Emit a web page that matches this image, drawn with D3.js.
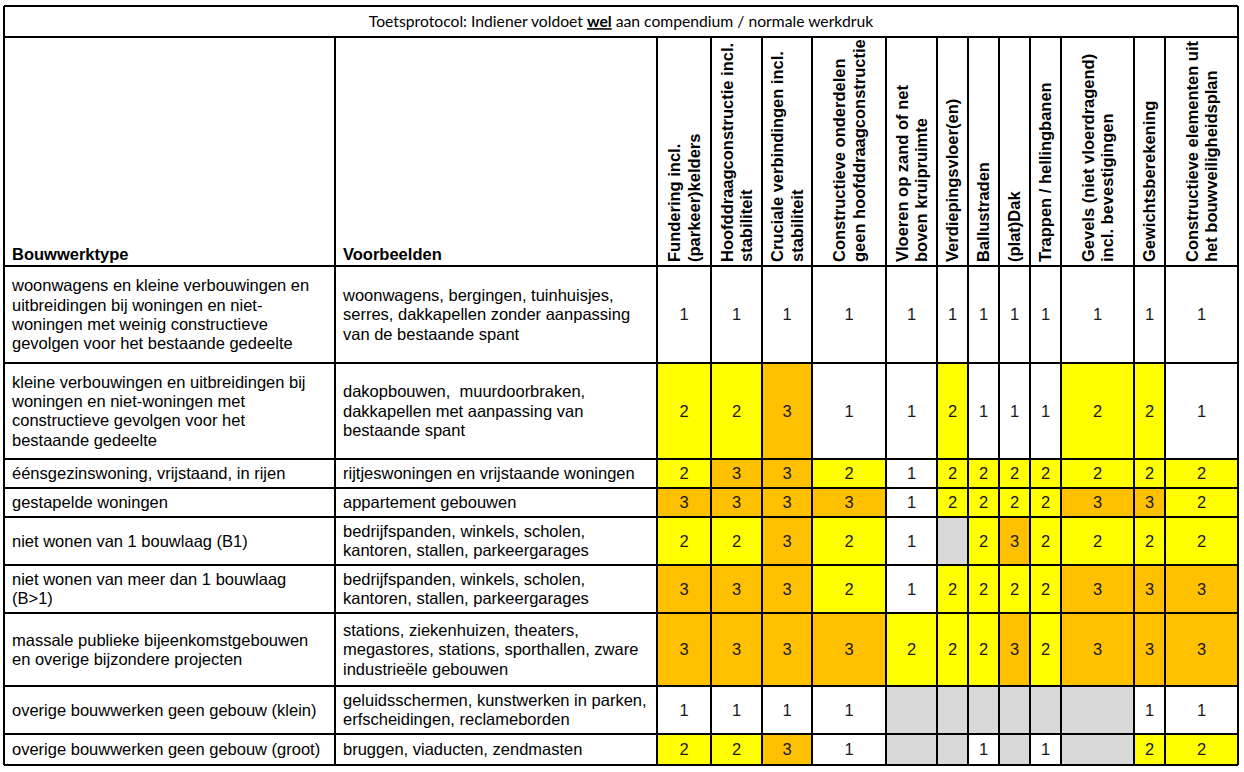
<!DOCTYPE html>
<html>
<head>
<meta charset="utf-8">
<script src="https://cdn.jsdelivr.net/npm/d3@7"></script>
<style>
  html, body { margin: 0; padding: 0; background: #fff; }
  svg { display: block; }
  text { font-family: "Liberation Sans", Arial, sans-serif; }
</style>
</head>
<body>
<svg id="chart" width="1244" height="772"></svg>
<script>
// ---------- DATA ----------
const titleParts = [
  { text: "Toetsprotocol: Indiener voldoet ", bold: false },
  { text: "wel", bold: true },
  { text: " aan compendium / normale werkdruk", bold: false }
];
const headerLabels = ["Bouwwerktype", "Voorbeelden"];
const criteria = [
  "Fundering incl.|(parkeer)kelders",
  "Hoofddraagconstructie incl.|stabiliteit",
  "Cruciale verbindingen incl.|stabiliteit",
  "Constructieve onderdelen|geen hoofddraagconstructie",
  "Vloeren op zand of net|boven kruipruimte",
  "Verdiepingsvloer(en)",
  "Ballustraden",
  "(plat)Dak",
  "Trappen / hellingbanen",
  "Gevels (niet vloerdragend)|incl. bevestigingen",
  "Gewichtsberekening",
  "Constructieve elementen uit|het bouwveiligheidsplan"
];
const buildingTypes = [
  "woonwagens en kleine verbouwingen en|uitbreidingen bij woningen en niet-|woningen met weinig constructieve|gevolgen voor het bestaande gedeelte",
  "kleine verbouwingen en uitbreidingen bij|woningen en niet-woningen met|constructieve gevolgen voor het|bestaande gedeelte",
  "éénsgezinswoning, vrijstaand, in rijen",
  "gestapelde woningen",
  "niet wonen van 1 bouwlaag (B1)",
  "niet wonen van meer dan 1 bouwlaag|(B>1)",
  "massale publieke bijeenkomstgebouwen|en overige bijzondere projecten",
  "overige bouwwerken geen gebouw (klein)",
  "overige bouwwerken geen gebouw (groot)"
];
const examples = [
  "woonwagens, bergingen, tuinhuisjes,|serres, dakkapellen zonder aanpassing|van de bestaande spant",
  "dakopbouwen,  muurdoorbraken,|dakkapellen met aanpassing van|bestaande spant",
  "rijtjeswoningen en vrijstaande woningen",
  "appartement gebouwen",
  "bedrijfspanden, winkels, scholen,|kantoren, stallen, parkeergarages",
  "bedrijfspanden, winkels, scholen,|kantoren, stallen, parkeergarages",
  "stations, ziekenhuizen, theaters,|megastores, stations, sporthallen, zware|industrieële gebouwen",
  "geluidsschermen, kunstwerken in parken,|erfscheidingen, reclameborden",
  "bruggen, viaducten, zendmasten"
];
// levels per row (null = not applicable / grey)
const levels = [
  [1, 1, 1, 1, 1, 1, 1, 1, 1, 1, 1, 1],
  [2, 2, 3, 1, 1, 2, 1, 1, 1, 2, 2, 1],
  [2, 3, 3, 2, 1, 2, 2, 2, 2, 2, 2, 2],
  [3, 3, 3, 3, 1, 2, 2, 2, 2, 3, 3, 2],
  [2, 2, 3, 2, 1, null, 2, 3, 2, 2, 2, 2],
  [3, 3, 3, 2, 1, 2, 2, 2, 2, 3, 3, 3],
  [3, 3, 3, 3, 2, 2, 2, 3, 2, 3, 3, 3],
  [1, 1, 1, 1, null, null, null, null, null, null, 1, 1],
  [2, 2, 3, 1, null, null, 1, null, 1, null, 2, 2]
];
const levelKeys = [1, 2, 3, null];

// ---------- LAYOUT ----------
const tLeft = 4, tTop = 6;
const textColWidths = [331, 322];
const critColWidths = [54, 51, 50, 74, 51, 31, 31, 31, 31, 73, 31, 73];
const titleH = 31, headerH = 229;
const rowHeights = [97, 96, 29, 29, 48, 48, 73, 48, 31];
const fontSize = 16.5, lineH = 19.3;

const svg = d3.select("#chart");

const cum = arr => arr.reduce((a, w) => (a.push(a[a.length - 1] + w), a), [0]);
const allCols = headerLabels.concat(criteria);
const allWidths = textColWidths.concat(critColWidths);
const colStarts = cum(allWidths);
const totalW = colStarts[colStarts.length - 1];
const x = d3.scaleOrdinal().domain(allCols).range(colStarts.slice(0, -1).map(v => tLeft + v));
const wOf = d3.scaleOrdinal().domain(allCols).range(allWidths);

const bodyTop = tTop + titleH + headerH;
const rowStarts = cum(rowHeights);
const y = d3.scaleOrdinal().domain(d3.range(buildingTypes.length)).range(rowStarts.slice(0, -1).map(v => bodyTop + v));
const hOf = d3.scaleOrdinal().domain(d3.range(buildingTypes.length)).range(rowHeights);
const tBottom = bodyTop + rowStarts[rowStarts.length - 1];

const color = d3.scaleOrdinal().domain(levelKeys).range(["#ffffff", "#ffff00", "#ffc000", "#d9d9d9"]);

// ---------- CELLS ----------
const cells = [];
levels.forEach((row, r) => row.forEach((v, c) => cells.push({ r, c, v })));

svg.append("g").selectAll("rect").data(cells).join("rect")
  .attr("x", d => x(criteria[d.c]))
  .attr("y", d => y(d.r))
  .attr("width", d => wOf(criteria[d.c]))
  .attr("height", d => hOf(d.r))
  .attr("fill", d => color(d.v));

svg.append("g").selectAll("text").data(cells.filter(d => d.v != null)).join("text")
  .attr("x", d => x(criteria[d.c]) + wOf(criteria[d.c]) / 2)
  .attr("y", d => y(d.r) + hOf(d.r) / 2)
  .attr("dy", "0.36em")
  .attr("text-anchor", "middle")
  .attr("font-size", fontSize)
  .attr("fill", "#1a1a1a")
  .text(d => d.v);

// ---------- ROW LABELS ----------
function multiline(g, str, cx, cy, anchor) {
  const lines = str.split("|");
  const t = g.append("text").attr("font-size", fontSize).attr("fill", "#000").attr("text-anchor", anchor)
    .style("white-space", "pre");
  lines.forEach((ln, i) => {
    t.append("tspan").attr("x", cx)
      .attr("y", cy + (i - (lines.length - 1) / 2) * lineH)
      .attr("dy", "0.35em")
      .text(ln);
  });
}
const labelG = svg.append("g");
buildingTypes.forEach((s, r) => multiline(labelG, s, x(headerLabels[0]) + 8, y(r) + hOf(r) / 2, "start"));
examples.forEach((s, r) => multiline(labelG, s, x(headerLabels[1]) + 8, y(r) + hOf(r) / 2, "start"));

// ---------- HEADER ----------
const headG = svg.append("g");
headerLabels.forEach(h => {
  headG.append("text")
    .attr("x", x(h) + 8).attr("y", bodyTop - 6.5)
    .attr("font-size", fontSize).attr("font-weight", "bold").attr("fill", "#000")
    .text(h);
});
criteria.forEach(c => {
  const lines = c.split("|");
  const cx = x(c) + wOf(c) / 2;
  lines.forEach((ln, i) => {
    const lx = cx + (i - (lines.length - 1) / 2) * lineH;
    headG.append("text")
      .attr("transform", `translate(${lx},${bodyTop - 4}) rotate(-90)`)
      .attr("dy", "0.36em")
      .attr("font-size", fontSize).attr("font-weight", "bold").attr("fill", "#000")
      .text(ln);
  });
});

// ---------- TITLE ----------
const title = svg.append("text")
  .attr("x", tLeft + totalW / 2).attr("y", tTop + titleH / 2)
  .attr("dy", "0.36em")
  .attr("text-anchor", "middle")
  .attr("font-size", 15)
  .style("font-family", "Lato, 'Open Sans', sans-serif")
  .style("white-space", "pre")
  .attr("fill", "#000");
titleParts.forEach(p => {
  const ts = title.append("tspan").text(p.text);
  if (p.bold) ts.attr("font-weight", "bold").style("text-decoration", "underline");
});
// fit title width to reference (~505px)
const tw = title.node().getComputedTextLength();
if (tw > 0) title.attr("font-size", 15 * 505 / tw);

// ---------- GRID LINES ----------
const gridG = svg.append("g").attr("stroke", "#000").attr("stroke-width", 1.3).attr("shape-rendering", "crispEdges");
const hLines = [tTop, tTop + titleH, bodyTop].concat(rowStarts.slice(1).map(v => bodyTop + v));
gridG.selectAll("line.h").data(hLines).join("line").attr("class", "h")
  .attr("x1", tLeft).attr("x2", tLeft + totalW)
  .attr("y1", d => d).attr("y2", d => d);
const vLines = colStarts.map(v => tLeft + v);
gridG.selectAll("line.v").data(vLines).join("line").attr("class", "v")
  .attr("x1", d => d).attr("x2", d => d)
  .attr("y1", (d, i) => (i === 0 || i === vLines.length - 1) ? tTop : tTop + titleH)
  .attr("y2", tBottom);
</script>
</body>
</html>
